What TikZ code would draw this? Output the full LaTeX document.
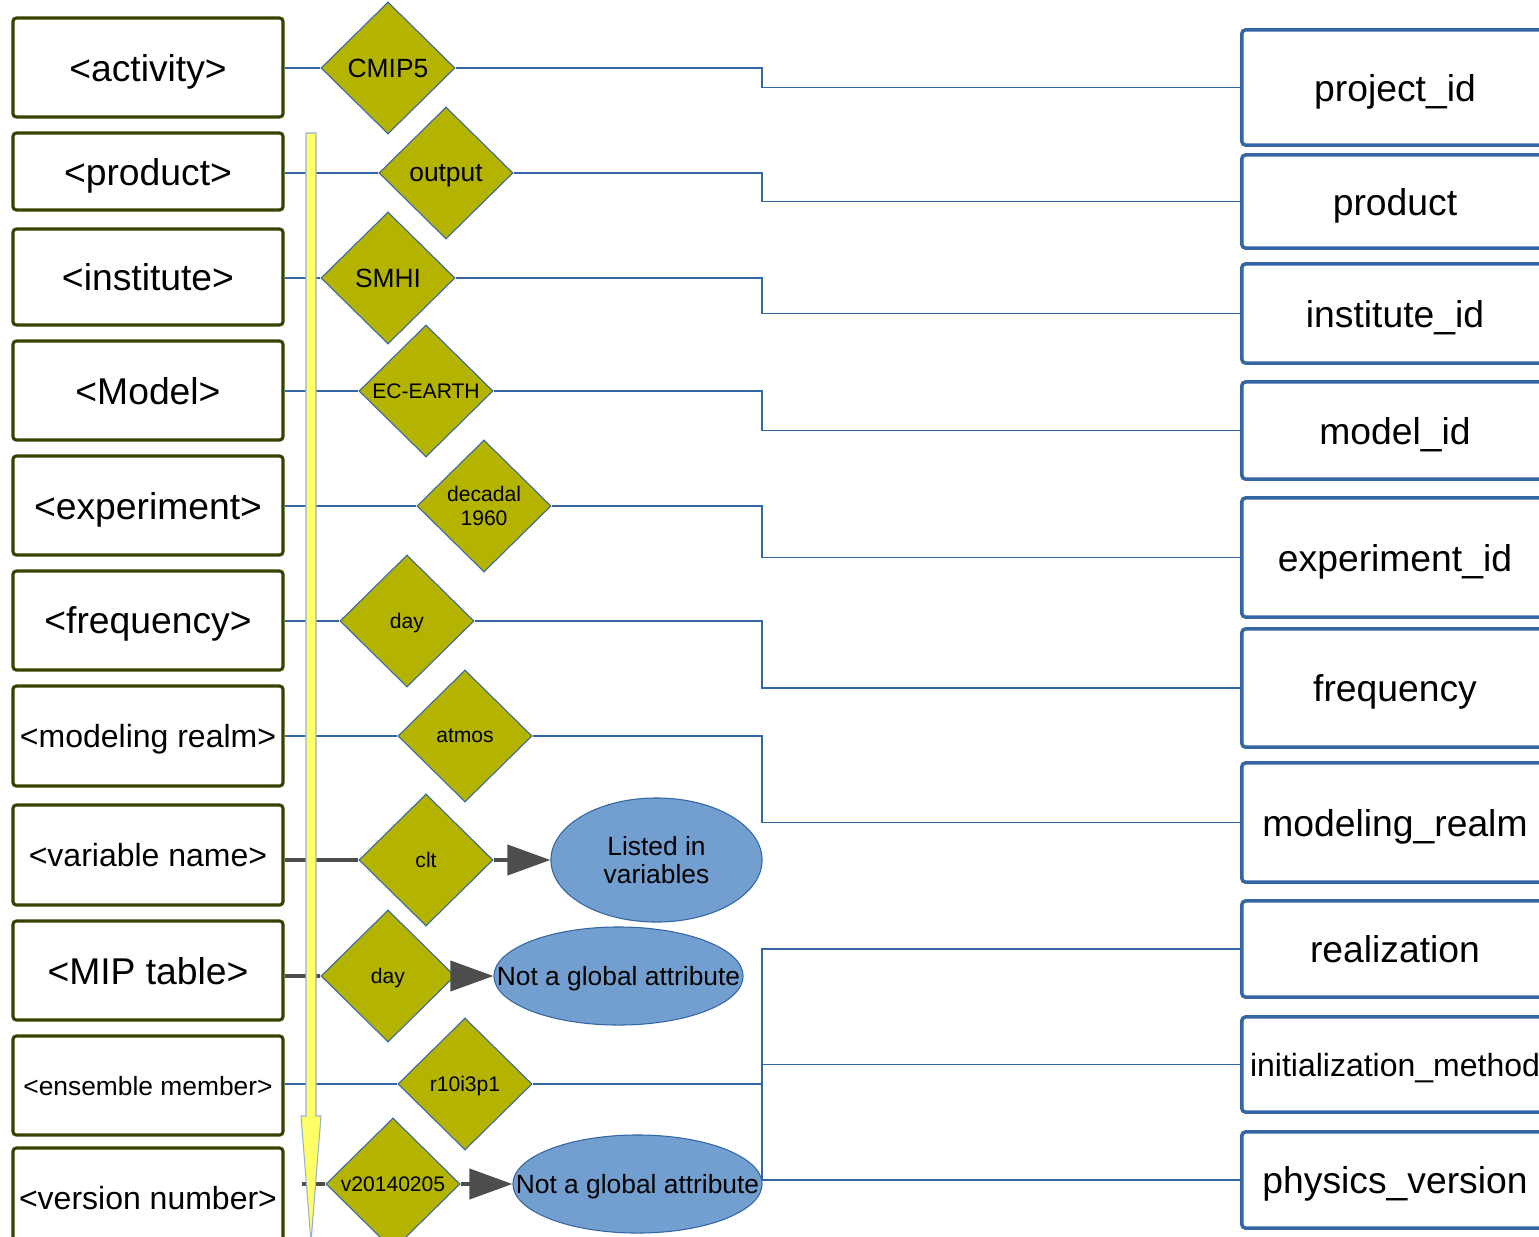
\documentclass[tikz,border=0pt]{standalone}
\usepackage{fontspec}
\setmainfont{Liberation Sans}
\usetikzlibrary{shapes.geometric,arrows.meta}
\definecolor{boxgreen}{HTML}{354200}
\definecolor{linkblue}{HTML}{3465A4}
\definecolor{diafill}{HTML}{B4B400}
\definecolor{ellfill}{HTML}{729FCF}
\definecolor{arrgray}{HTML}{4D4D4D}
\definecolor{marker}{HTML}{FFFF66}
\newcommand{\fsbig}{\fontsize{10.6}{12.7}\selectfont}
\newcommand{\fsmed}{\fontsize{9.1}{10.9}\selectfont}
\newcommand{\fssmall}{\fontsize{7.5}{8}\selectfont}
\newcommand{\fstiny}{\fontsize{6}{6.8}\selectfont}

\begin{document}
\begin{tikzpicture}[x=0.01cm, y=-0.01cm,
	field/.style={draw=boxgreen, line width=0.9pt, rounded corners=1pt, minimum width=2.7cm, inner sep=0pt, text depth=0pt, font=\fsbig},
	attr/.style={draw=linkblue, line width=1pt, rounded corners=1pt, minimum width=3.06cm, inner sep=0pt, text depth=0pt, font=\fsbig},
	value/.style={diamond, draw=linkblue, line width=0.3pt, fill=diafill, minimum width=1.34cm, minimum height=1.32cm, inner sep=0pt, text depth=0pt, align=center, font=\fstiny},
	note/.style={ellipse, draw=linkblue, line width=0.3pt, fill=ellfill, inner sep=0pt, text depth=0pt, align=center, font=\fssmall},
	link/.style={draw=linkblue, line width=0.4pt},
	wire/.style={draw=arrgray, line width=1.15pt},
	feed/.style={wire, -{Triangle[length=0.43cm, width=0.3cm]}}]
	\useasboundingbox (0,0) rectangle (1539,1236);
	\clip (0,0) rectangle (1539,1236);

	\node[field, minimum height=0.99cm] (fact) at (148,67.5) {<activity>};
	\node[field, minimum height=0.77cm] (fprod) at (148,171.5) {<product>};
	\node[field, minimum height=0.96cm] (finst) at (148,277) {<institute>};
	\node[field, minimum height=0.99cm] (fmodel) at (148,390.5) {<Model>};
	\node[field, minimum height=0.99cm] (fexp) at (148,505.5) {<experiment>};
	\node[field, minimum height=0.99cm] (ffreq) at (148,620.5) {<frequency>};
	\node[field, minimum height=1cm, font=\fsmed] (frealm) at (148,736) {<modeling realm>};
	\node[field, minimum height=1cm, font=\fsmed] (fvar) at (148,855) {<variable name>};
	\node[field, minimum height=0.99cm] (ftable) at (148,970.5) {<MIP table>};
	\node[field, minimum height=0.99cm, font=\fssmall] (fens) at (148,1085.5) {<ensemble member>};
	\node[field, minimum height=0.99cm, font=\fsmed] (fver) at (148,1197.5) {<version number>};

	\node[value, font=\fssmall] (vact) at (388,68) {CMIP5};
	\node[value, font=\fssmall] (vprod) at (446,173) {output};
	\node[value, font=\fssmall] (vinst) at (388,278) {SMHI};
	\node[value] (vmodel) at (426,391) {EC-EARTH};
	\node[value] (vexp) at (484,506) {decadal\\1960};
	\node[value] (vfreq) at (407,621) {day};
	\node[value] (vrealm) at (465,736) {atmos};
	\node[value] (vvar) at (426,860) {clt};
	\node[value] (vtable) at (388,976) {day};
	\node[value] (vens) at (465,1084) {r10i3p1};
	\node[value] (vver) at (393,1184) {v20140205};

	\node[note, minimum width=2.11cm, minimum height=1.24cm] (nvar) at (656.5,860) {Listed in\\variables};
	\node[note, minimum width=2.49cm, minimum height=0.98cm, inner xsep=-0.4cm] (ntable) at (618.5,976) {Not a global attribute};
	\node[note, minimum width=2.49cm, minimum height=0.98cm, inner xsep=-0.4cm] (nver) at (637.5,1184) {Not a global attribute};

	\node[attr, minimum height=1.15cm] (aproj) at (1395,87.5) {project\_id};
	\node[attr, minimum height=0.93cm] (aprod) at (1395,201.5) {product};
	\node[attr, minimum height=0.99cm] (ainst) at (1395,313.5) {institute\_id};
	\node[attr, minimum height=0.97cm] (amodel) at (1395,430.5) {model\_id};
	\node[attr, minimum height=1.19cm] (aexp) at (1395,557.5) {experiment\_id};
	\node[attr, minimum height=1.18cm] (afreq) at (1395,688) {frequency};
	\node[attr, minimum height=1.19cm] (arealm) at (1395,822.5) {modeling\_realm};
	\node[attr, minimum height=0.96cm] (areal) at (1395,949) {realization};
	\node[attr, minimum height=0.95cm, font=\fsmed] (ainit) at (1395,1064.5) {initialization\_method};
	\node[attr, minimum height=0.96cm] (aphys) at (1395,1180) {physics\_version};

	\coordinate (bus) at (762,0);
	\coordinate (vstart) at (302,1184);

	\draw[link] (fact.east |- vact) -- (vact.west);
	\draw[link] (vact.east) -- (vact.east -| bus) |- (aproj.west);
	\draw[link] (fprod.east |- vprod) -- (vprod.west);
	\draw[link] (vprod.east) -- (vprod.east -| bus) |- (aprod.west);
	\draw[link] (finst.east |- vinst) -- (vinst.west);
	\draw[link] (vinst.east) -- (vinst.east -| bus) |- (ainst.west);
	\draw[link] (fmodel.east |- vmodel) -- (vmodel.west);
	\draw[link] (vmodel.east) -- (vmodel.east -| bus) |- (amodel.west);
	\draw[link] (fexp.east |- vexp) -- (vexp.west);
	\draw[link] (vexp.east) -- (vexp.east -| bus) |- (aexp.west);
	\draw[link] (ffreq.east |- vfreq) -- (vfreq.west);
	\draw[link] (vfreq.east) -- (vfreq.east -| bus) |- (afreq.west);
	\draw[link] (frealm.east |- vrealm) -- (vrealm.west);
	\draw[link] (vrealm.east) -- (vrealm.east -| bus) |- (arealm.west);

	\draw[wire] (fvar.east |- vvar) -- (vvar.west);
	\draw[feed] (vvar.east) -- (nvar.west);
	\draw[wire] (ftable.east |- vtable) -- (vtable.west);
	\draw[feed] (vtable.east) -- (ntable.west);

	\draw[link] (fens.east |- vens) -- (vens.west);
	\draw[link] (vens.east) -- (vens.east -| bus);
	\draw[link] (areal.west) -| (bus |- aphys) -- (aphys.west);
	\draw[link] (bus |- ainit) -- (ainit.west);

	\draw[wire] (vstart) -- (vver.west);
	\draw[feed] (vver.east) -- (nver.west);

	\filldraw[fill=marker, draw=linkblue!50, line width=0.3pt] (306,133) -- (316,133) -- (316,1116) -- (321,1116) -- (311,1242) -- (301,1116) -- (306,1116) -- cycle;
\end{tikzpicture}
\end{document}
